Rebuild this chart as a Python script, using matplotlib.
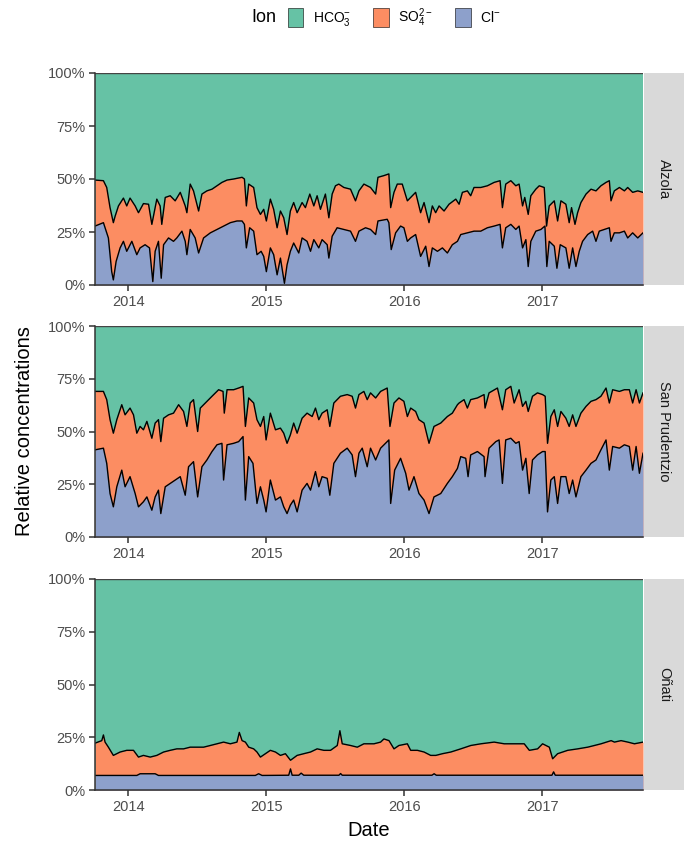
import matplotlib.pyplot as plt
from matplotlib.patches import Patch

plt.rcParams['font.family'] = ['Liberation Sans', 'DejaVu Sans']
plt.rcParams['mathtext.default'] = 'regular'

# dates are decimal years, values are % of total ions
# "top" = Cl + SO4 (cumulative), "cl" = Cl only; HCO3 fills the rest up to 100 %

alz_top_t = [2013.758, 2013.819, 2013.843, 2013.867, 2013.891, 2013.904, 2013.928, 2013.964, 2013.988, 2014.012,
             2014.049, 2014.073, 2014.109, 2014.146, 2014.170, 2014.182, 2014.206, 2014.230, 2014.242, 2014.267,
             2014.303, 2014.339, 2014.376, 2014.412, 2014.424, 2014.448, 2014.472, 2014.509, 2014.533, 2014.569,
             2014.606, 2014.642, 2014.678, 2014.715, 2014.763, 2014.824, 2014.841, 2014.855, 2014.872, 2014.908,
             2014.932, 2014.957, 2014.981, 2015.000, 2015.029, 2015.053, 2015.078, 2015.102,
             2015.126, 2015.150, 2015.174, 2015.198, 2015.223, 2015.259, 2015.283, 2015.315, 2015.344, 2015.368,
             2015.392, 2015.428, 2015.453, 2015.477, 2015.501, 2015.525, 2015.562, 2015.610, 2015.646, 2015.671,
             2015.707, 2015.755, 2015.792, 2015.809, 2015.852, 2015.888, 2015.901, 2015.925, 2015.949, 2015.985,
             2016.022, 2016.058, 2016.082, 2016.118, 2016.143, 2016.179, 2016.203, 2016.227, 2016.252, 2016.288,
             2016.324, 2016.373,
             2016.397, 2016.421, 2016.457, 2016.481, 2016.505, 2016.554, 2016.602, 2016.651, 2016.694, 2016.711,
             2016.735, 2016.772, 2016.808, 2016.832, 2016.857, 2016.873, 2016.898, 2016.917, 2016.953, 2016.978,
             2017.014, 2017.031, 2017.050, 2017.087, 2017.111, 2017.135, 2017.171, 2017.195, 2017.212, 2017.237,
             2017.256, 2017.280, 2017.317, 2017.353, 2017.389, 2017.425, 2017.462, 2017.486, 2017.498, 2017.522,
             2017.559, 2017.595, 2017.619, 2017.655, 2017.692, 2017.730]
alz_top = [49.5, 49.2, 46.0, 36.5, 29.4, 32.5, 37.3, 41.0, 37.3, 41.0,
           37.3, 34.1, 38.4, 38.1, 28.6, 32.5, 40.5, 37.3, 28.6, 41.3,
           42.1, 39.7, 43.7, 37.3, 34.1, 47.6, 44.4, 34.9, 42.9, 44.4,
           45.2, 46.8, 48.4, 49.5, 50.0, 50.8, 50.0, 37.3, 47.6, 46.0,
           36.5, 33.3, 35.7, 30.2, 40.5, 35.7, 27.0, 34.9,
           31.7, 23.8, 34.9, 38.9, 34.1, 38.9, 36.5, 42.9, 37.3, 42.1,
           35.7, 42.9, 31.7, 42.9, 46.8, 47.6, 46.0, 45.2, 39.7, 44.4,
           47.6, 46.0, 42.9, 50.8, 51.6, 52.4, 36.5, 43.7, 47.6, 47.6,
           39.7, 42.1, 43.7, 34.1, 38.9, 29.4, 37.3, 34.1, 37.3, 34.9,
           38.1, 40.5,
           38.1, 43.7, 44.4, 42.1, 46.0, 46.0, 46.8, 48.4, 49.2, 36.5,
           47.6, 49.2, 46.8, 47.6, 37.3, 41.3, 33.3, 42.1, 45.2, 46.8,
           46.0, 27.8, 37.3, 39.7, 30.2, 39.7, 38.1, 29.4, 36.5, 28.6,
           34.1, 38.9, 42.9, 45.2, 44.4, 46.8, 48.4, 49.2, 39.7, 44.4,
           46.0, 44.4, 46.0, 43.7, 44.4, 43.7]

alz_cl_t = [2013.758, 2013.819, 2013.855, 2013.879, 2013.891, 2013.911, 2013.940, 2013.964, 2013.988,
            2014.025, 2014.061, 2014.085, 2014.121, 2014.153, 2014.177, 2014.194, 2014.218, 2014.238, 2014.255,
            2014.291, 2014.327, 2014.351, 2014.388, 2014.412, 2014.424, 2014.448, 2014.484, 2014.509, 2014.545,
            2014.594, 2014.642, 2014.690, 2014.739, 2014.787, 2014.824, 2014.841, 2014.855, 2014.879, 2014.908,
            2014.932, 2014.962, 2014.981, 2015.000, 2015.029, 2015.053, 2015.078, 2015.102,
            2015.114, 2015.131, 2015.150, 2015.174, 2015.198, 2015.235, 2015.259, 2015.295, 2015.320, 2015.344,
            2015.380, 2015.404, 2015.441, 2015.453, 2015.477, 2015.513, 2015.562, 2015.610, 2015.646, 2015.671,
            2015.719, 2015.755, 2015.792, 2015.809, 2015.876, 2015.888, 2015.905, 2015.937, 2015.973, 2015.997,
            2016.022, 2016.046, 2016.082, 2016.118, 2016.155, 2016.179, 2016.203, 2016.240, 2016.276, 2016.312,
            2016.348, 2016.385,
            2016.409, 2016.457, 2016.505, 2016.554, 2016.602, 2016.651, 2016.694, 2016.711, 2016.735, 2016.772,
            2016.808, 2016.832, 2016.857, 2016.881, 2016.898, 2016.917, 2016.953, 2016.990, 2017.019, 2017.033,
            2017.050, 2017.087, 2017.106, 2017.130, 2017.171, 2017.195, 2017.220, 2017.244, 2017.268, 2017.292,
            2017.329, 2017.365, 2017.389, 2017.413, 2017.450, 2017.486, 2017.498, 2017.522, 2017.559, 2017.595,
            2017.619, 2017.655, 2017.692, 2017.730]
alz_cl = [27.8, 29.4, 22.2, 6.3, 2.4, 11.1, 17.5, 20.6, 15.9,
          20.6, 14.3, 17.5, 19.0, 17.5, 1.6, 15.9, 20.6, 3.2, 19.0,
          22.2, 20.6, 22.2, 25.4, 20.6, 14.3, 26.2, 22.2, 15.1, 22.2,
          24.6, 26.2, 27.8, 29.4, 30.2, 30.2, 28.6, 17.5, 27.0, 25.4,
          14.3, 15.9, 13.5, 6.3, 17.5, 14.3, 4.8, 12.7,
          7.9, 0.8, 9.5, 15.9, 19.8, 15.1, 22.2, 20.6, 15.9, 21.4,
          17.5, 21.4, 19.0, 12.7, 23.0, 27.0, 26.2, 25.4, 20.6, 25.4,
          27.0, 26.2, 23.8, 30.2, 31.0, 29.4, 16.7, 24.6, 27.8, 27.0,
          20.6, 22.2, 23.8, 13.5, 18.3, 8.7, 17.5, 15.9, 17.5, 15.1,
          19.0, 20.6,
          23.8, 24.6, 25.4, 25.4, 27.0, 27.8, 28.6, 17.5, 27.0, 28.6,
          26.2, 27.8, 17.5, 21.4, 8.7, 20.6, 25.4, 26.2, 27.8, 8.7,
          20.6, 18.3, 7.9, 19.0, 17.5, 7.9, 17.5, 8.7, 15.9, 20.6,
          23.8, 25.4, 20.6, 25.4, 26.2, 27.0, 20.6, 24.6, 24.6, 25.4,
          22.2, 24.6, 22.2, 24.6]

spr_top_t = [2013.758, 2013.819, 2013.843, 2013.867, 2013.891, 2013.916, 2013.952, 2013.976,
             2014.012, 2014.037, 2014.061, 2014.085, 2014.109, 2014.134, 2014.170, 2014.194, 2014.218, 2014.235,
             2014.255, 2014.291, 2014.327, 2014.364, 2014.400, 2014.424, 2014.448, 2014.472, 2014.502, 2014.521,
             2014.557, 2014.606, 2014.654, 2014.686, 2014.695, 2014.715, 2014.763, 2014.799, 2014.831, 2014.848,
             2014.872, 2014.908, 2014.932, 2014.957, 2014.981, 2014.998, 2015.029, 2015.066, 2015.102,
             2015.126, 2015.150, 2015.174, 2015.198, 2015.223, 2015.259, 2015.295, 2015.332, 2015.356, 2015.380,
             2015.404, 2015.441, 2015.460, 2015.489, 2015.537, 2015.586, 2015.622, 2015.646, 2015.671, 2015.707,
             2015.731, 2015.755, 2015.792, 2015.828, 2015.876, 2015.896, 2015.925, 2015.961, 2015.997,
             2016.022, 2016.046, 2016.082, 2016.106, 2016.143, 2016.179, 2016.215, 2016.264, 2016.312, 2016.348,
             2016.385,
             2016.397, 2016.433, 2016.457, 2016.481, 2016.530, 2016.578, 2016.585, 2016.614, 2016.675, 2016.711,
             2016.735, 2016.772, 2016.796, 2016.832, 2016.857, 2016.881, 2016.898, 2016.929, 2016.965,
             2017.002, 2017.021, 2017.038, 2017.062, 2017.087, 2017.111, 2017.135, 2017.171, 2017.195, 2017.220,
             2017.244, 2017.280, 2017.317, 2017.353, 2017.389, 2017.425, 2017.462, 2017.486, 2017.510, 2017.559,
             2017.595, 2017.631, 2017.655, 2017.680, 2017.704, 2017.730]
spr_top = [69.0, 69.0, 65.1, 55.6, 49.2, 55.6, 62.7, 57.9,
           61.1, 57.9, 49.2, 52.4, 50.8, 54.8, 46.8, 54.0, 55.6, 45.2,
           56.3, 57.9, 58.7, 62.7, 59.5, 52.4, 63.5, 65.1, 50.0, 61.1,
           63.5, 66.7, 69.8, 69.0, 58.7, 69.8, 69.8, 70.6, 71.4, 52.4,
           65.9, 63.5, 55.6, 52.4, 57.1, 46.0, 58.7, 50.8, 51.6,
           49.2, 44.4, 48.4, 54.0, 49.2, 56.3, 58.7, 57.1, 61.1, 55.6,
           58.7, 60.3, 52.4, 63.5, 66.7, 67.5, 66.7, 61.1, 67.5, 69.0,
           65.1, 68.3, 65.9, 69.0, 70.6, 52.4, 63.5, 65.9, 64.3,
           57.1, 61.1, 59.5, 55.6, 54.0, 44.4, 52.4, 54.0, 57.1, 58.7,
           62.7,
           63.5, 65.1, 61.1, 65.1, 65.9, 67.5, 61.1, 68.3, 70.6, 60.3,
           69.8, 71.4, 63.5, 69.8, 61.9, 64.3, 59.5, 66.7, 68.3,
           67.5, 66.7, 44.4, 57.1, 60.3, 52.4, 59.5, 56.3, 52.4, 57.9,
           52.4, 58.7, 61.9, 64.3, 65.1, 66.7, 70.6, 63.5, 69.8, 69.0,
           69.8, 69.8, 63.5, 69.8, 63.5, 68.3]

spr_cl_t = [2013.758, 2013.819, 2013.843, 2013.867, 2013.891, 2013.916, 2013.952, 2013.976,
            2014.012, 2014.049, 2014.073, 2014.109, 2014.134, 2014.170, 2014.194, 2014.218, 2014.235, 2014.267,
            2014.303, 2014.339, 2014.376, 2014.412, 2014.436, 2014.472, 2014.502, 2014.533, 2014.569, 2014.606,
            2014.642, 2014.678, 2014.690, 2014.715, 2014.763, 2014.799, 2014.831, 2014.848, 2014.872, 2014.903,
            2014.932, 2014.957, 2014.981, 2014.998, 2015.029, 2015.066, 2015.102,
            2015.126, 2015.150, 2015.174, 2015.198, 2015.223, 2015.259, 2015.295, 2015.320, 2015.356, 2015.380,
            2015.404, 2015.441, 2015.460, 2015.489, 2015.537, 2015.586, 2015.622, 2015.646, 2015.671, 2015.695,
            2015.731, 2015.755, 2015.792, 2015.828, 2015.864, 2015.888, 2015.901, 2015.930, 2015.973,
            2016.010, 2016.034, 2016.070, 2016.106, 2016.143, 2016.179, 2016.215, 2016.264, 2016.312, 2016.348,
            2016.385,
            2016.409, 2016.445, 2016.462, 2016.481, 2016.530, 2016.578, 2016.585, 2016.614, 2016.663, 2016.687,
            2016.711, 2016.735, 2016.772, 2016.808, 2016.832, 2016.857, 2016.881, 2016.905, 2016.929, 2016.965,
            2017.002, 2017.021, 2017.038, 2017.062, 2017.087, 2017.111, 2017.135, 2017.171, 2017.195, 2017.220,
            2017.244, 2017.280, 2017.317, 2017.353, 2017.389, 2017.425, 2017.462, 2017.486, 2017.510, 2017.559,
            2017.595, 2017.631, 2017.655, 2017.680, 2017.704, 2017.730]
spr_cl = [41.3, 42.1, 34.9, 20.6, 14.3, 23.8, 31.7, 23.8,
          28.6, 20.6, 14.3, 16.7, 19.0, 12.7, 19.0, 22.2, 11.1, 23.8,
          25.4, 27.0, 28.6, 19.8, 33.3, 35.7, 19.0, 33.3, 36.5, 40.5,
          43.7, 44.4, 27.0, 43.7, 44.4, 45.2, 47.6, 17.5, 38.1, 34.9,
          15.9, 23.8, 17.5, 11.9, 27.0, 17.5, 19.0,
          14.3, 11.1, 15.1, 17.5, 11.9, 22.2, 25.4, 22.2, 31.0, 23.8,
          28.6, 27.8, 19.8, 34.9, 39.7, 42.1, 38.9, 28.6, 39.7, 42.1,
          33.3, 42.1, 36.5, 42.1, 44.4, 46.0, 15.9, 31.7, 37.3,
          30.2, 22.2, 28.6, 20.6, 17.5, 11.1, 19.0, 20.6, 25.4, 28.6,
          32.5,
          38.1, 37.3, 28.6, 38.9, 40.5, 38.1, 28.6, 42.1, 45.2, 46.0,
          25.4, 46.0, 46.8, 44.4, 45.2, 31.7, 37.3, 20.6, 36.5, 38.9,
          40.5, 40.5, 11.9, 27.0, 28.6, 15.9, 28.6, 28.6, 20.6, 27.0,
          19.0, 28.6, 31.7, 34.9, 36.5, 41.3, 46.0, 31.7, 42.9, 42.1,
          43.7, 42.9, 31.7, 42.9, 30.2, 39.7]

ona_top_t = [2013.758, 2013.807, 2013.819, 2013.831, 2013.855, 2013.891, 2013.940, 2013.988,
             2014.037, 2014.073, 2014.109, 2014.158, 2014.206, 2014.255, 2014.303, 2014.351, 2014.400, 2014.448,
             2014.497, 2014.545, 2014.594, 2014.642, 2014.690, 2014.739, 2014.787, 2014.804, 2014.824, 2014.848,
             2014.872, 2014.908, 2014.932, 2014.957, 2014.993,
             2015.029, 2015.066, 2015.102, 2015.138, 2015.175, 2015.223, 2015.271, 2015.320, 2015.368, 2015.417,
             2015.465, 2015.514, 2015.533, 2015.550, 2015.610, 2015.659, 2015.707,
             2015.780, 2015.828, 2015.852, 2015.889, 2015.925, 2015.961,
             2016.022, 2016.046, 2016.095, 2016.143, 2016.191, 2016.228, 2016.276, 2016.337, 2016.409, 2016.482,
             2016.555, 2016.651, 2016.724, 2016.797, 2016.869, 2016.906, 2016.966,
             2017.002, 2017.051, 2017.075, 2017.111, 2017.184, 2017.257, 2017.329, 2017.378, 2017.426, 2017.499,
             2017.523, 2017.571, 2017.620, 2017.668, 2017.730]
ona_top = [22.2, 23.4, 26.1, 22.7, 20.3, 16.4, 18.0, 18.8,
           18.8, 15.6, 16.4, 15.6, 16.4, 18.0, 18.8, 19.5, 19.5, 20.3,
           20.3, 20.3, 21.1, 21.9, 22.7, 21.9, 22.7, 27.3, 23.4, 22.7,
           20.3, 19.5, 18.0, 15.6, 17.2,
           18.8, 18.0, 16.4, 17.2, 14.1, 16.4, 17.2, 18.0, 19.5, 18.8,
           18.8, 21.1, 28.1, 21.9, 21.1, 20.3, 21.9,
           21.9, 22.7, 24.2, 23.4, 19.5, 21.1,
           21.9, 18.8, 18.8, 18.0, 16.4, 16.4, 17.2, 18.0, 19.5, 21.1,
           21.9, 22.7, 21.9, 21.9, 21.9, 18.8, 19.5,
           21.9, 20.3, 14.8, 17.2, 18.8, 19.5, 20.3, 21.1, 21.9, 23.4,
           22.7, 23.4, 22.7, 21.9, 22.7]

ona_cl_t = [2013.758, 2014.061, 2014.085, 2014.194, 2014.218, 2014.920, 2014.944, 2014.969,
            2015.162, 2015.175, 2015.187, 2015.235, 2015.252, 2015.271, 2015.526, 2015.538, 2015.550,
            2016.200, 2016.216, 2016.232, 2017.070, 2017.082, 2017.094, 2017.730]
ona_cl = [6.9, 6.9, 7.7, 7.7, 6.9, 6.9, 7.7, 6.9,
          7.0, 10.0, 7.0, 7.0, 8.0, 7.0, 7.0, 7.8, 7.0,
          7.0, 7.7, 7.0, 7.0, 8.6, 7.0, 7.0]

sites = ['Alzola', 'San Prudentzio', 'Oñati']
year_ticks = [2014, 2015, 2016, 2017]
pct_ticks = [0, 25, 50, 75, 100]

c_hco3 = '#66c2a5'
c_so4 = '#fc8d62'
c_cl = '#8da0cb'
axis_col = '#333333'

W, H = 687, 842
fig = plt.figure(figsize=(W / 100, H / 100), dpi=100)

panels = [(alz_top_t, alz_top, alz_cl_t, alz_cl),
          (spr_top_t, spr_top, spr_cl_t, spr_cl),
          (ona_top_t, ona_top, ona_cl_t, ona_cl)]
# panel top / bottom in pixels
rows = [(73, 285), (326, 537), (579, 790)]
x_left, x_right = 95, 643

for name, (tt, top, tc, cl), (ytop, ybot) in zip(sites, panels, rows):
    y0 = 1 - ybot / H
    h = (ybot - ytop) / H
    ax = fig.add_axes([x_left / W, y0, (x_right - x_left) / W, h])
    ax.fill_between(tt, 0, 100, color=c_hco3, lw=0)
    ax.fill_between(tt, 0, top, color=c_so4, lw=0)
    ax.fill_between(tc, 0, cl, color=c_cl, lw=0)
    ax.plot(tt, top, color='black', lw=1.0)
    ax.plot(tc, cl, color='black', lw=1.0)
    ax.plot([tt[0], tt[-1]], [100, 100], color='#444444', lw=1.0)
    ax.set_xlim(tt[0], tt[-1])
    ax.set_ylim(0, 100)
    ax.set_xticks(year_ticks)
    ax.set_xticklabels([str(y) for y in year_ticks])
    ax.set_yticks(pct_ticks)
    ax.set_yticklabels([f'{p}%' for p in pct_ticks])
    for s in ['top', 'right']:
        ax.spines[s].set_visible(False)
    for s in ['left', 'bottom']:
        ax.spines[s].set_color(axis_col)
        ax.spines[s].set_linewidth(1.1)
    ax.tick_params(length=4, width=1.1, color=axis_col, labelcolor='#4d4d4d',
                   labelsize=10.5, pad=3)

    sax = fig.add_axes([(x_right + 1) / W, y0, 40 / W, h])
    sax.set_facecolor('#d9d9d9')
    sax.set_xticks([])
    sax.set_yticks([])
    for s in sax.spines.values():
        s.set_visible(False)
    sax.text(0.5, 0.5, name, rotation=-90, ha='center', va='center',
             fontsize=10.5, color='#1a1a1a', transform=sax.transAxes)

fig.text(25 / W, 1 - 431 / H, 'Relative concentrations', rotation=90,
         ha='center', va='center', fontsize=14.5)
fig.text((x_left + x_right) / 2 / W, 1 - 830 / H, 'Date', ha='center',
         va='center', fontsize=14.5)

# legend
fig.text(264 / W, 1 - 18 / H, 'Ion', ha='center', va='center', fontsize=13)
handles = [Patch(facecolor=c, edgecolor='black', linewidth=0.4) for c in [c_hco3, c_so4, c_cl]]
labels = [r'HCO$_3^{-}$', r'SO$_4^{2-}$', r'Cl$^{-}$']
fig.legend(handles, labels, ncol=3, loc='center left',
           bbox_to_anchor=(288 / W, 1 - 18 / H), frameon=False,
           borderpad=0, borderaxespad=0, handlelength=1.1, handleheight=1.7,
           handletextpad=0.7, columnspacing=1.6, fontsize=10)

fig.savefig('out.png', dpi=100)
